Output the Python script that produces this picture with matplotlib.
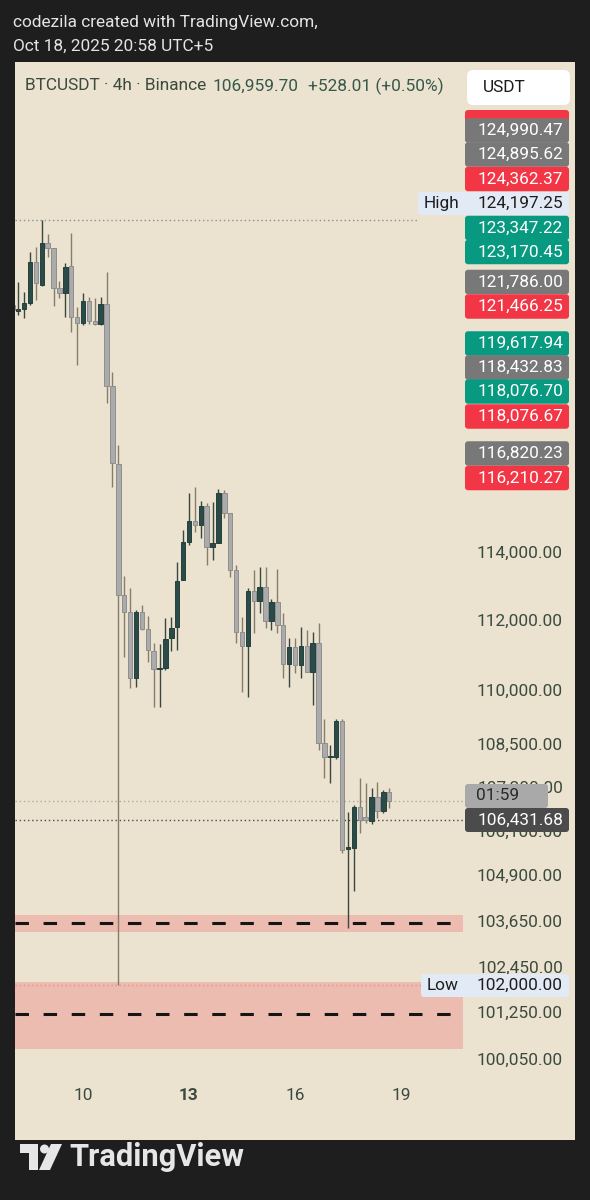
import numpy as np
import pandas as pd
import matplotlib
matplotlib.use('Agg')
from matplotlib import pyplot as plt
from matplotlib.patches import FancyBboxPatch, Polygon, Circle
from matplotlib.ticker import NullLocator
from matplotlib.transforms import blended_transform_factory

plt.rcParams['font.family'] = ['Roboto', 'DejaVu Sans']

# BTCUSDT 4h candles, first one opens Oct 8 00:00
opens = [121500, 121320, 121386, 121573, 122864, 122138, 123465, 123306, 122044, 121887,
         122738, 121137, 120950, 121635, 121013, 120919, 121542, 119005, 116640, 112772,
         112280, 110391, 112280, 111791, 111158, 110646, 110674, 111531, 111849, 113209,
         114321, 114942, 114824, 115384, 114173, 114291, 115771, 115177, 113500, 111704,
         111301, 112889, 112597, 113005, 112021, 112568, 111906, 110789, 111272, 110760,
         111301, 110561, 111388, 108558, 108167, 108167, 109174, 105634, 105662, 106783,
         106509, 106399, 107058, 106673, 107197]
highs = [121650, 122230, 121918, 123179, 123338, 124197.25, 123752, 123320, 122264, 122832,
         123784, 121448, 121887, 121760, 121729, 121760, 122549, 119435, 117210, 113325,
         112976, 112338, 112482, 112165, 111388, 111359, 112107, 112136, 113734, 114676,
         115771, 115951, 115532, 115473, 115502, 115891, 115861, 115177, 113646, 112136,
         112976, 113500, 113588, 113588, 112655, 113530, 112251, 111531, 111531, 111849,
         111762, 111704, 111964, 109230, 108501, 109230, 109230, 106646, 106838, 107584,
         107446, 107307, 107473, 107252, 107307]
lows = [121200, 121200, 121106, 121510, 121666, 122107, 123021, 121479, 121729, 121137,
        120670, 119650, 120888, 120919, 120888, 120888, 118484, 115951, 102000, 110987,
        110105, 110133, 111762, 110845, 109567, 109567, 110618, 111158, 111186, 113209,
        114232, 114617, 114439, 113646, 113792, 114291, 115029, 113296, 111388, 109991,
        109849, 111675, 112251, 111820, 111762, 111675, 110391, 110133, 110533, 110391,
        110561, 109624, 108361, 107584, 107446, 108111, 105526, 103510, 104500, 106073,
        106345, 106317, 106482, 106618, 106755]
closes = [121350, 121380, 121573, 122864, 122201, 123465, 123306, 122044, 121887, 122707,
          121137, 120950, 121635, 121013, 120919, 121542, 119005, 116669, 112772, 112280,
          110391, 112280, 111791, 111186, 110646, 110674, 111503, 111820, 113180, 114321,
          114942, 114824, 115384, 114173, 114291, 115771, 115177, 113500, 111704, 111301,
          112889, 112597, 113005, 112021, 112568, 111906, 110789, 111272, 110760, 111301,
          110561, 111388, 108558, 108167, 108195, 109174, 105607, 105689, 106783, 106427,
          106427, 107058, 106673, 107197, 106959.70]

price_ticks = [114000, 112000, 110000, 108500, 107300, 106100, 104900, 103650, 102450, 101250, 100050]
day_ticks = [10, 13, 16, 19]

high_price = 124197.25
low_price = 102000.00
last_price = 106959.70
prev_close = 106431.68
zones = [(103401, 103854, 103650), (100333, 102079, 101250)]

# stacked price-line labels on the price scale
line_labels = ['124,990.47', '124,895.62', '124,362.37', '123,347.22', '123,170.45',
               '121,786.00', '121,466.25', '119,617.94', '118,432.83', '118,076.70',
               '118,076.67', '116,820.23', '116,210.27']
line_kinds = ['gray', 'gray', 'red', 'green', 'green', 'gray', 'red', 'green', 'gray',
              'green', 'red', 'gray', 'red']
line_label_y = [130.5, 154.5, 179, 228, 252, 282, 306.5, 343.5, 367.5, 391.5, 416.5, 453.5, 478]

kind_colors = {'gray': '#787878', 'red': '#f23645', 'green': '#089981'}
BG = '#1e1e1e'
PANEL = '#ebe2d0'
TXT = '#3b4a3e'
FS = 12.4

fig = plt.figure(figsize=(5.9, 12), dpi=100, facecolor=BG)
inch = fig.dpi_scale_trans


def P(x, y):
    # screen pixels (top-left origin) -> inches
    return x / 100, (1200 - y) / 100


ax = fig.add_axes([15 / 590, 1 - 1140 / 1200, 560 / 590, 1078 / 1200])
ax.set_facecolor(PANEL)
ax.set_yscale('log')
ax.set_xlim(8.0755, 23.925)
ax.set_ylim(98011, 129354)
for s in ax.spines.values():
    s.set_visible(False)
ax.yaxis.set_major_locator(NullLocator())
ax.yaxis.set_minor_locator(NullLocator())
ax.xaxis.set_major_locator(NullLocator())
ax.tick_params(which='both', left=False, bottom=False, labelleft=False, labelbottom=False)

times = pd.date_range('2025-10-08 00:00', periods=len(opens), freq='4h')
tx = np.asarray(times.day + times.hour / 24.0, dtype=float)
o = np.array(opens, float)
c = np.array(closes, float)
up = c > o
body_col = np.where(up, '#2b4b48', '#ababab')
edge_col = np.where(up, '#24403d', '#8e8e8e')
wick_col = np.where(up, '#39473f', '#857d6a')

pane = 0.8  # chart pane fraction (the rest is price scale)
for lo, hi, mid in zones:
    ax.axhspan(lo, hi, xmin=0, xmax=pane, color='#ecbcb0', lw=0, zorder=1)
    ax.axhline(mid, xmin=0, xmax=pane, color='#151515', lw=2.2, ls=(0, (4.4, 4.8)), zorder=1.5)

ax.axhline(high_price, xmin=0, xmax=(418 - 15) / 560, color='#8f8f8f', lw=1, ls=(0, (1, 2)), zorder=1.2)
ax.axhline(low_price, xmin=0, xmax=(421 - 15) / 560, color='#d99586', lw=1, ls=(0, (1, 2)), zorder=1.2)
ax.axhline(last_price, xmin=0, xmax=pane, color='#b3aa9a', lw=1, ls=(0, (1, 2)), zorder=1.2)
ax.axhline(prev_close, xmin=0, xmax=pane, color='#4a4a4a', lw=1, ls=(0, (1, 2)), zorder=1.2)

ax.vlines(tx, lows, highs, colors=wick_col, lw=1.0, zorder=2)
ax.bar(tx, np.abs(c - o), bottom=np.minimum(o, c), width=0.125, color=body_col,
       edgecolor=edge_col, linewidth=0.7, zorder=3)

# price scale
ytr = blended_transform_factory(inch, ax.transData)
for v in price_ticks:
    ax.text(5.63, v, f'{v:,.2f}', transform=ytr, ha='right', va='center',
            fontsize=FS, color=TXT, zorder=4)

# date scale
xtr = blended_transform_factory(ax.transData, inch)
for d in day_ticks:
    ax.text(d, P(0, 1095)[1], str(d), transform=xtr, ha='center', va='center',
            fontsize=FS, color=TXT, fontweight='bold' if d == 13 else 'normal')


def box(x0, x1, y0, y1, color, z=5, r=0.03):
    bx, by = P(x0, y1)
    p = FancyBboxPatch((bx, by), (x1 - x0) / 100, (y1 - y0) / 100,
                       boxstyle=f'round,pad=0,rounding_size={r}',
                       transform=inch, fc=color, ec='none', zorder=z)
    fig.add_artist(p)


def label(x, y, s, color, ha='right', size=FS, weight='normal', z=6):
    fig.text(*P(x, y), s, transform=inch, ha=ha, va='center', fontsize=size,
             color=color, fontweight=weight, zorder=z)


# red box peeking under the currency selector
box(465, 569, 110, 124, kind_colors['red'], z=4.9)
for s, k, y in zip(line_labels, line_kinds, line_label_y):
    box(465, 569, y - 12.25, y + 12.25, kind_colors[k])
    label(563, y, s, 'white')

# High / Low tags
box(418, 569, 192, 215, '#e2ebf5')
label(424, 203.5, 'High', '#1e1e1e', ha='left')
label(563, 203.5, f'{high_price:,.2f}', '#1e1e1e')
box(421, 569, 974, 997, '#e2ebf5')
label(427, 985.5, 'Low', '#1e1e1e', ha='left')
label(563, 985.5, f'{low_price:,.2f}', '#1e1e1e')

# countdown + previous close
box(465, 548, 784, 808, '#a9a9a9')
label(476, 796, '01:59', '#2a2a2a', ha='left')
box(465, 569, 808, 832, '#4b4b4b')
label(563, 820, f'{prev_close:,.2f}', 'white')

# currency selector
box(467, 570, 70, 105, 'white', z=7, r=0.06)
label(483, 87.5, 'USDT', '#1a1a1a', ha='left', z=8)

# legend line
label(25, 86, 'BTCUSDT · 4h · Binance', TXT, ha='left')
label(212, 86, f'{last_price:,.2f}', '#35584a', ha='left')
label(308, 86, '+528.01 (+0.50%)', '#35584a', ha='left')

# screenshot header
label(13, 23, 'codezila created with TradingView.com,', '#e4e4e4', ha='left')
label(13, 46, 'Oct 18, 2025 20:58 UTC+5', '#e4e4e4', ha='left')

# TradingView logo
logo = '#e6e6e6'
fig.add_artist(Polygon([P(20, 1144), P(38, 1144), P(38, 1170), P(29, 1170), P(29, 1153), P(20, 1153)],
                       closed=True, transform=inch, fc=logo, ec='none'))
fig.add_artist(Circle(P(44.5, 1149), 0.045, transform=inch, fc=logo, ec='none'))
fig.add_artist(Polygon([P(51, 1144), P(62, 1144), P(50, 1170), P(39, 1170)],
                       closed=True, transform=inch, fc=logo, ec='none'))
label(69, 1157, 'TradingView', logo, ha='left', size=22.2, weight='bold')

fig.savefig('out.png', dpi=100, facecolor=BG)
